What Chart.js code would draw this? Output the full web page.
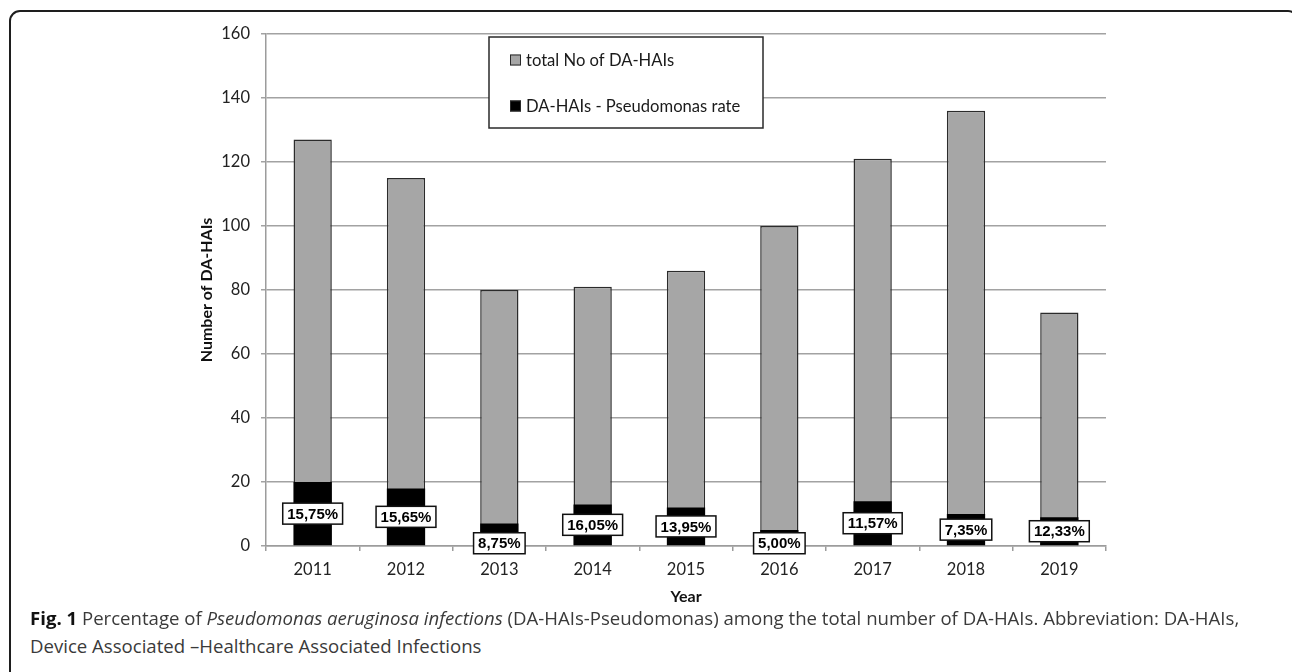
<!DOCTYPE html>
<html>
<head>
<meta charset="utf-8">
<title>DA-HAIs and Pseudomonas rate, 2011–2019</title>
<script src="https://cdn.jsdelivr.net/npm/chart.js@4/dist/chart.umd.min.js"></script>
<style>
  html, body { margin: 0; padding: 0; background: #fff; overflow: hidden; }
  body { width: 1292px; height: 672px; position: relative; }
  #frame {
    position: absolute; left: 9px; top: 10px; width: 1290px; height: 700px;
    border: 2px solid #1e1e1e; border-radius: 11px; box-sizing: border-box;
  }
  #wrap { position: absolute; left: 0; top: 0; width: 1292px; height: 610px; }
  .cap {
    position: absolute; left: 30px; white-space: nowrap;
    font-family: "Open Sans", sans-serif; font-size: 17px; line-height: 28px; color: #3a3a3a;
  }
  .cap b { color: #111; }
  #cap1 { top: 604px; }
  #cap2 { top: 632px; }
</style>
</head>
<body>
<div id="frame"></div>
<div id="wrap"><canvas id="chart" width="1292" height="610"></canvas></div>
<div class="cap" id="cap1"><b>Fig. 1</b> Percentage of <i>Pseudomonas aeruginosa infections</i> (DA-HAIs-Pseudomonas) among the total number of DA-HAIs. Abbreviation: DA-HAIs,</div>
<div class="cap" id="cap2">Device Associated –Healthcare Associated Infections</div>

<script>
// Yearly counts of device-associated HAIs and those caused by Pseudomonas
const years = ['2011', '2012', '2013', '2014', '2015', '2016', '2017', '2018', '2019'];
const totalHAIs = [127, 115, 80, 81, 86, 100, 121, 136, 73];
const pseudomonasHAIs = [20, 18, 7, 13, 12, 5, 14, 10, 9];
const seriesNames = ['total No of DA-HAIs', 'DA-HAIs - Pseudomonas rate'];
const yTickMin = 0, yTickMax = 160, yTickStep = 20;

// Percentage label for each year, written with a decimal comma
const rateLabels = pseudomonasHAIs.map((p, i) =>
  (p / totalHAIs[i] * 100).toFixed(2).replace('.', ',') + '%');

// Framed legend sitting inside the plot area
const legendBox = {
  id: 'legendBox',
  afterDatasetsDraw(chart) {
    const ctx = chart.ctx;
    const x = 489, y = 37, w = 274, h = 91;
    ctx.save();
    ctx.fillStyle = '#fff';
    ctx.fillRect(x, y, w, h);
    ctx.strokeStyle = '#2a2a2a';
    ctx.lineWidth = 1.5;
    ctx.strokeRect(x, y, w, h);
    ctx.font = '16.6px Lato';
    ctx.textBaseline = 'middle';
    chart.data.datasets.forEach((ds, i) => {
      const cy = y + 23 + i * 46;
      ctx.fillStyle = ds.backgroundColor;
      ctx.fillRect(510, cy - 5.5, 11, 11);
      ctx.strokeStyle = '#2a2a2a';
      ctx.lineWidth = 1;
      ctx.strokeRect(510.5, cy - 5, 10, 10);
      ctx.fillStyle = '#1a1a1a';
      ctx.fillText(ds.label, 526, cy + 1);
    });
    ctx.restore();
  }
};

// Boxed percentage labels on the Pseudomonas bars
const rateBoxes = {
  id: 'rateBoxes',
  afterDatasetsDraw(chart) {
    const ctx = chart.ctx;
    const meta = chart.getDatasetMeta(1);
    ctx.save();
    ctx.font = 'bold 15px "Liberation Sans"';
    ctx.textAlign = 'center';
    ctx.textBaseline = 'middle';
    meta.data.forEach((bar, i) => {
      const text = rateLabels[i];
      const bw = ctx.measureText(text).width + 9;
      const bh = 21;
      const barH = bar.base - bar.y;
      let cy = (bar.y + bar.base) / 2;
      if (barH < bh + 4) cy = bar.base - 2;
      const bx = bar.x - bw / 2, by = cy - bh / 2;
      ctx.fillStyle = '#fff';
      ctx.fillRect(bx, by, bw, bh);
      ctx.strokeStyle = '#111';
      ctx.lineWidth = 1.5;
      ctx.strokeRect(bx, by, bw, bh);
      ctx.fillStyle = '#000';
      ctx.fillText(text, bar.x, cy + 1);
    });
    ctx.restore();
  }
};

function fitCaption() {
  const c1 = document.getElementById('cap1');
  const c2 = document.getElementById('cap2');
  const w = c1.getBoundingClientRect().width;
  const size = 17 * 1210 / w;
  c1.style.fontSize = size + 'px';
  c2.style.fontSize = size + 'px';
}

function draw() {
  fitCaption();
  new Chart(document.getElementById('chart'), {
    type: 'bar',
    data: {
      labels: years,
      datasets: [
        {
          label: seriesNames[0], data: totalHAIs,
          backgroundColor: '#a6a6a6', borderColor: '#2b2b2b', borderWidth: 1.5,
          grouped: false, order: 1, barPercentage: 0.41, categoryPercentage: 1
        },
        {
          label: seriesNames[1], data: pseudomonasHAIs,
          backgroundColor: '#000000', borderColor: '#000000', borderWidth: 0,
          grouped: false, order: 0, barPercentage: 0.41, categoryPercentage: 1
        }
      ]
    },
    options: {
      responsive: false,
      animation: false,
      events: [],
      layout: { padding: { top: 34, left: 197, right: 186, bottom: 4 } },
      plugins: { legend: { display: false }, tooltip: { enabled: false } },
      scales: {
        x: {
          offset: true,
          grid: { offset: true, drawOnChartArea: false, drawTicks: true, tickLength: 5, color: '#9c9c9c', lineWidth: 1.5 },
          border: { color: '#9c9c9c', width: 1.5 },
          ticks: { color: '#222', padding: 9, font: { family: 'Lato', size: 16.5 } },
          title: { display: true, text: 'Year', color: '#111', padding: 0, font: { family: 'Lato', size: 16, weight: 'bold' } },
          afterFit(scale) { scale.height = 60; }
        },
        y: {
          min: yTickMin, max: yTickMax,
          grid: { color: '#a2a2a2', lineWidth: 1.5, tickLength: 5 },
          border: { color: '#9c9c9c', width: 1.5 },
          ticks: { stepSize: yTickStep, color: '#222', padding: 11, font: { family: 'Lato', size: 16.5 } },
          title: { display: true, text: 'Number of DA-HAIs', color: '#111', padding: 0, font: { family: 'Lato', size: 16, weight: 'bold' } },
          afterFit(scale) { scale.width = 69; }
        }
      }
    },
    plugins: [legendBox, rateBoxes]
  });
}

const fontsWanted = ['16px Lato', 'bold 16px Lato', 'bold 15px "Liberation Sans"', '17px "Open Sans"', 'italic 17px "Open Sans"', 'bold 17px "Open Sans"'];
Promise.all(fontsWanted.map(f => document.fonts.load(f))).then(draw, draw);
</script>
</body>
</html>
